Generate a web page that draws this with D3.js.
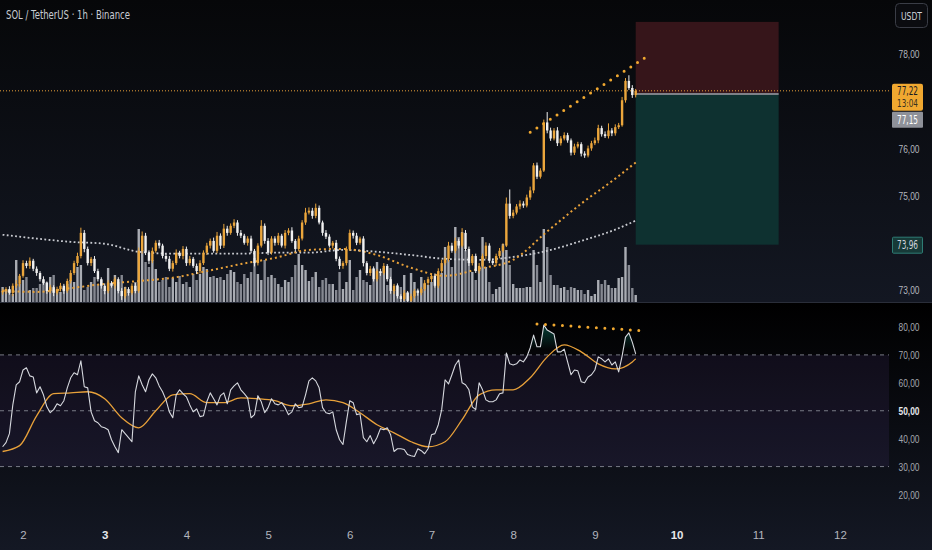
<!DOCTYPE html>
<html>
<head>
<meta charset="utf-8">
<script src="https://cdn.jsdelivr.net/npm/d3@7"></script>
<style>
  html, body { margin: 0; padding: 0; background: #000; }
  svg { display: block; font-family: "Liberation Sans Narrow", "DejaVu Sans Condensed", "Liberation Sans", sans-serif; }
</style>
</head>
<body>
<svg id="chart" width="932" height="550"></svg>
<script>
// hourly candles, first one is day 1 18:00
var startDay = 1, startHour = 18;

var closes = [
  72.98,73.02,72.94,73.09,73.13,73.30,73.57,73.51,73.62,73.45,
  73.36,73.23,73.15,72.98,73.06,72.94,73.02,73.09,72.98,73.19,
  73.36,73.57,73.72,74.21,73.87,73.57,73.66,73.40,73.23,73.09,
  72.98,73.15,73.09,73.23,72.98,72.87,73.02,72.94,73.09,72.98,
  73.83,74.15,73.79,73.62,73.83,74.00,73.94,73.72,73.66,73.45,
  73.57,73.79,73.72,73.87,73.57,73.66,73.51,73.40,73.57,73.79,
  73.94,74.04,73.83,74.15,73.94,74.30,74.21,74.36,74.43,74.21,
  74.15,74.00,74.09,73.83,73.57,73.94,74.36,74.04,73.79,74.09,
  74.00,74.15,73.94,74.21,74.26,74.04,73.87,74.09,74.43,74.64,
  74.68,74.57,74.74,74.43,74.21,74.13,73.94,74.00,73.66,73.51,
  73.57,73.87,74.21,74.15,74.00,74.09,73.57,73.36,73.45,73.23,
  73.40,73.36,73.51,73.23,72.98,73.09,72.87,72.81,72.94,72.77,
  72.87,72.98,72.94,73.02,73.15,73.23,73.30,73.09,73.40,73.57,
  73.66,73.94,73.83,74.04,73.94,74.21,73.87,73.57,73.72,73.40,
  73.51,73.72,73.94,73.62,73.57,73.72,73.83,73.94,74.83,74.57,
  74.64,74.77,74.83,74.79,74.96,75.11,75.64,75.40,75.53,76.55,
  76.38,76.21,76.38,76.11,76.21,76.28,76.17,75.91,76.04,76.09,
  75.89,75.85,76.00,76.11,76.17,76.43,76.30,76.26,76.38,76.32,
  76.45,76.49,77.02,77.43,77.28,77.13,77.22
];
var firstOpen = 72.95;

var wickUp = [
  .05,.04,.06,.05,.08,.04,.06,.05,.07,.04, .05,.04,.06,.03,.05,.04,.05,.06,.04,.05,
  .06,.05,.07,.11,.06,.05,.04,.06,.05,.04, .05,.06,.04,.05,.04,.06,.05,.04,.05,.06,
  .07,.09,.06,.05,.07,.05,.06,.04,.05,.06, .05,.07,.04,.06,.05,.06,.04,.05,.06,.05,
  .06,.05,.07,.08,.05,.10,.06,.05,.07,.05, .06,.04,.05,.06,.04,.05,.12,.05,.06,.05,
  .05,.06,.04,.06,.05,.07,.04,.06,.05,.10, .07,.06,.09,.05,.04,.06,.05,.04,.06,.05,
  .04,.05,.07,.05,.06,.04,.05,.04,.06,.05, .04,.05,.06,.04,.05,.04,.05,.04,.06,.04,
  .05,.04,.05,.04,.06,.05,.04,.05,.06,.07, .05,.08,.06,.07,.05,.10,.06,.05,.04,.05,
  .06,.05,.07,.05,.04,.05,.06,.05,.13,.30, .06,.05,.07,.05,.06,.08,.05,.06,.05,.06,
  .22,.06,.05,.07,.05,.06,.05,.04,.06,.05, .04,.05,.06,.05,.06,.07,.05,.06,.15,.05,
  .06,.05,.07,.06,.12,.06,.04
];
var wickDn = [
  .05,.06,.04,.07,.05,.06,.04,.05,.06,.05, .06,.05,.04,.06,.05,.07,.04,.05,.06,.04,
  .05,.04,.06,.05,.07,.05,.06,.04,.05,.06, .07,.05,.04,.06,.05,.08,.05,.06,.04,.05,
  .04,.06,.05,.07,.05,.04,.06,.05,.06,.05, .06,.04,.05,.07,.06,.05,.04,.06,.05,.04,
  .05,.06,.04,.05,.07,.05,.06,.04,.05,.06, .05,.04,.06,.05,.07,.05,.04,.06,.05,.04,
  .06,.05,.04,.06,.05,.04,.06,.05,.04,.05, .04,.06,.05,.04,.06,.05,.04,.06,.05,.07,
  .06,.05,.04,.06,.05,.04,.07,.05,.06,.05, .05,.06,.04,.05,.06,.07,.05,.06,.04,.06,
  .05,.04,.06,.05,.04,.05,.06,.04,.05,.04, .05,.06,.04,.05,.06,.04,.05,.06,.05,.04,
  .05,.04,.06,.05,.04,.06,.05,.04,.03,.06, .05,.04,.06,.05,.04,.05,.06,.05,.04,.03,
  .06,.05,.04,.06,.05,.04,.05,.06,.05,.04, .06,.05,.04,.05,.04,.06,.05,.04,.05,.06,
  .05,.04,.03,.05,.04,.06,.05
];

// volume, thousands SOL
var volumes = [
  15,13,12,8,42,18,22,25,12,14, 14,18,22,20,25,27,12,10,15,18,
  22,20,35,37,12,15,20,25,18,22, 12,34,18,27,20,27,15,10,12,20,
  73,52,40,35,42,33,20,22,25,15, 24,20,26,18,20,15,28,22,28,35,
  33,25,26,24,25,22,28,32,30,20, 18,28,24,30,44,28,22,42,25,27,
  24,18,15,22,20,25,37,48,37,32, 21,25,30,15,22,24,18,18,12,30,
  13,20,42,12,25,32,22,20,17,34, 40,30,34,17,34,12,17,15,27,10,
  29,20,12,25,18,17,20,22,27,29, 55,42,35,75,65,70,52,45,30,22,
  32,65,35,20,8,13,15,58,52,37, 18,14,14,14,15,15,52,37,20,73,
  55,27,17,17,14,15,12,15,14,12, 12,8,12,6,8,22,18,22,17,14,
  14,24,25,55,37,14,7
];

// moving averages read every 10 candles
var maIdx = [0,10,20,30,40,50,60,70,80,90,100,110,120,130,140,150,160,170,180,186];
var maSlow = [74.17,74.09,74.02,73.98,73.81,73.77,73.77,73.77,73.79,73.79,73.85,73.81,73.74,73.66,73.64,73.70,73.83,74.04,74.28,74.47];
var maFast = [72.98,72.96,73.04,73.13,73.19,73.26,73.40,73.55,73.68,73.85,73.87,73.74,73.47,73.30,73.45,73.64,74.24,74.83,75.36,75.70];

var rsi = [
  37.1,38.6,41.8,52.1,59.3,60.4,64.6,65.4,62.5,62.1, 56.4,58.6,55.7,51.4,49.3,50.4,52.5,51.8,53.6,58.2,
  61.8,63.6,62.9,67.9,58.6,58.2,49.6,46.4,45.7,44.3, 43.9,43.2,39.6,37.1,35.0,43.2,41.8,40.4,38.9,56.8,
  62.5,59.3,56.8,61.1,63.2,61.8,58.9,56.8,53.9,49.6, 47.5,55.7,57.5,56.1,55.0,52.1,49.6,50.7,47.9,48.2,
  53.2,56.4,54.3,52.1,55.4,56.4,52.5,57.5,58.9,60.0, 57.5,56.1,54.6,47.5,48.6,55.4,53.2,49.3,51.1,54.3,
  52.5,52.1,52.9,51.1,48.6,49.6,52.5,51.1,51.4,55.7, 60.7,61.8,60.7,58.2,51.1,49.3,48.9,49.6,43.2,39.6,
  37.9,46.1,53.6,52.9,48.6,48.9,40.4,38.9,41.1,38.2, 40.4,43.6,43.2,43.9,41.4,35.4,36.4,36.4,36.1,34.3,
  33.9,33.6,36.4,35.7,34.6,36.4,41.4,41.8,45.0,50.4, 61.1,59.6,62.9,66.4,68.2,60.0,59.3,57.5,51.4,50.4,
  60.0,57.5,53.9,53.2,53.2,53.9,56.1,56.4,70.7,66.8, 66.4,66.8,68.2,67.5,69.3,72.5,77.1,72.9,72.9,80.7,
  78.9,78.2,77.5,71.1,71.1,72.1,67.5,62.9,64.6,64.3, 60.4,60.0,62.1,62.9,64.6,69.3,68.6,67.5,68.6,66.4,
  67.5,63.9,69.6,76.4,77.9,74.6,70.4
];
var rsiMaIdx = [0,5,10,15,20,25,30,35,40,45,50,55,60,65,70,75,80,85,90,95,100,105,110,115,120,125,130,135,140,145,150,155,160,165,170,175,180,185,186];
var rsiMa = [35.4,37.5,48.2,56.1,56.4,56.8,54.3,47.5,43.9,50.0,55.7,56.1,52.9,52.9,54.6,54.3,53.6,51.8,52.5,53.9,52.9,49.3,45.0,42.1,38.9,37.1,38.9,46.8,55.7,57.5,57.5,61.8,69.3,73.6,71.1,66.8,65.0,67.5,68.6];

var priceTicks = [73, 75, 76, 78];
var rsiTicks = [20, 30, 40, 50, 60, 70, 80];
var rsiLevels = [70, 50, 30];
var days = [2, 3, 4, 5, 6, 7, 8, 9, 10, 11, 12];
var boldDays = [3, 10];

// short position drawing
var posStart = 186, posEnd = 228;
var posStop = 78.68, posEntry = 77.15, posTarget = 73.96;
var lastPrice = 77.22, countdown = "13:04";
var priceTrend = [[155, 76.34], [190, 77.98]];
var rsiTrend = [[157, 81.1], [189, 78.6]];

var W = 932, H = 550, plotW = 889;
var mainBot = 302, rsiTop = 303;

var x = d3.scaleLinear().domain([0, 186]).range([2.6, 635.7]);
var y = d3.scaleLinear().domain([73, 78]).range([290, 54]);
var yVol = d3.scaleLinear().domain([0, 80]).range([mainBot, 222]);
var yRsi = d3.scaleLinear().domain([20, 80]).range([494.5, 327]);

var fmt = function(d){ return d3.format(".2f")(d).replace(".", ","); };
var UP = "#eba63c", DOWN = "#f0f0f0", ORANGE = "#e8a13a";

// the chart font is narrower than anything installed, squeeze to width
function squeeze(sel, w) {
  sel.attr("textLength", w).attr("lengthAdjust", "spacingAndGlyphs");
}

var svg = d3.select("#chart");
var defs = svg.append("defs");

function vgrad(id, y1, y2, c1, c2) {
  var g = defs.append("linearGradient").attr("id", id)
    .attr("gradientUnits", "userSpaceOnUse")
    .attr("x1", 0).attr("x2", 0).attr("y1", y1).attr("y2", y2);
  g.append("stop").attr("offset", 0).attr("stop-color", c1);
  g.append("stop").attr("offset", 1).attr("stop-color", c2);
}
vgrad("bgMain", 0, mainBot, "#060709", "#131722");
vgrad("bgRsi", rsiTop, H, "#000000", "#141824");

var ob = defs.append("linearGradient").attr("id", "obFill")
  .attr("gradientUnits", "userSpaceOnUse")
  .attr("x1", 0).attr("x2", 0).attr("y1", yRsi(72)).attr("y2", yRsi(84));
ob.append("stop").attr("offset", 0).attr("stop-color", "#089981").attr("stop-opacity", 0);
ob.append("stop").attr("offset", 1).attr("stop-color", "#089981").attr("stop-opacity", 0.55);

defs.append("clipPath").attr("id", "clipMain")
  .append("rect").attr("x", 0).attr("y", 0).attr("width", plotW).attr("height", mainBot);
defs.append("clipPath").attr("id", "clipRsi")
  .append("rect").attr("x", 0).attr("y", rsiTop).attr("width", plotW).attr("height", 512 - rsiTop);
defs.append("clipPath").attr("id", "clipOb")
  .append("rect").attr("x", 0).attr("y", rsiTop).attr("width", plotW).attr("height", yRsi(70) - rsiTop);

svg.append("rect").attr("width", W).attr("height", mainBot).attr("fill", "url(#bgMain)");
svg.append("rect").attr("y", rsiTop).attr("width", W).attr("height", H - rsiTop).attr("fill", "url(#bgRsi)");
svg.append("line").attr("x1", 0).attr("x2", W).attr("y1", mainBot + 0.5).attr("y2", mainBot + 0.5)
  .attr("stroke", "#2a2e39");

// candle records
var candles = closes.map(function(c, i){
  var o = i === 0 ? firstOpen : closes[i - 1];
  return { i: i, o: o, c: c,
           h: Math.max(o, c) + wickUp[i], l: Math.min(o, c) - wickDn[i],
           v: volumes[i], up: c >= o };
});

var main = svg.append("g").attr("clip-path", "url(#clipMain)");

// position box
main.append("rect")
  .attr("x", x(posStart)).attr("width", x(posEnd) - x(posStart))
  .attr("y", y(posStop)).attr("height", y(posEntry) - y(posStop))
  .attr("fill", "#36151a");
main.append("rect")
  .attr("x", x(posStart)).attr("width", x(posEnd) - x(posStart))
  .attr("y", y(posEntry)).attr("height", y(posTarget) - y(posEntry))
  .attr("fill", "#0e3130");
main.append("line")
  .attr("x1", x(posStart)).attr("x2", x(posEnd))
  .attr("y1", y(posEntry)).attr("y2", y(posEntry))
  .attr("stroke", "#7d8088").attr("stroke-width", 2);

// volume
main.selectAll("rect.vol").data(candles).enter().append("rect")
  .attr("class", "vol")
  .attr("x", function(d){ return x(d.i) - 1.2; })
  .attr("width", 2.4)
  .attr("y", function(d){ return yVol(d.v); })
  .attr("height", function(d){ return yVol(0) - yVol(d.v); })
  .attr("fill", function(d){ return d.up ? "#a9acb3" : "#858891"; });

// last price line
main.append("line")
  .attr("x1", 0).attr("x2", plotW)
  .attr("y1", y(lastPrice)).attr("y2", y(lastPrice))
  .attr("stroke", ORANGE).attr("stroke-width", 1).attr("stroke-dasharray", "1 2");

// moving averages
var maLine = d3.line()
  .x(function(d){ return x(d[0]); })
  .y(function(d){ return y(d[1]); })
  .curve(d3.curveMonotoneX);

main.append("path")
  .datum(maIdx.map(function(k, j){ return [k, maSlow[j]]; }))
  .attr("d", maLine)
  .attr("fill", "none").attr("stroke", "#c9cbd1").attr("stroke-width", 1.8)
  .attr("stroke-dasharray", "1.8 2.4");
main.append("path")
  .datum(maIdx.map(function(k, j){ return [k, maFast[j]]; }))
  .attr("d", maLine)
  .attr("fill", "none").attr("stroke", ORANGE).attr("stroke-width", 2)
  .attr("stroke-dasharray", "2 3");

// candles
var cg = main.selectAll("g.candle").data(candles).enter().append("g").attr("class", "candle");
cg.append("line")
  .attr("x1", function(d){ return x(d.i); }).attr("x2", function(d){ return x(d.i); })
  .attr("y1", function(d){ return y(d.h); }).attr("y2", function(d){ return y(d.l); })
  .attr("stroke", function(d){ return d.up ? UP : DOWN; }).attr("stroke-width", 1);
cg.append("rect")
  .attr("x", function(d){ return x(d.i) - 1.2; })
  .attr("width", 2.4)
  .attr("y", function(d){ return y(Math.max(d.o, d.c)); })
  .attr("height", function(d){ return Math.max(1, Math.abs(y(d.o) - y(d.c))); })
  .attr("fill", function(d){ return d.up ? UP : DOWN; });

// trend line drawing
main.append("line")
  .attr("x1", x(priceTrend[0][0])).attr("y1", y(priceTrend[0][1]))
  .attr("x2", x(priceTrend[1][0])).attr("y2", y(priceTrend[1][1]))
  .attr("stroke", "#f0a830").attr("stroke-width", 3)
  .attr("stroke-linecap", "round").attr("stroke-dasharray", "0 8");

// RSI pane
var rsiG = svg.append("g").attr("clip-path", "url(#clipRsi)");
rsiG.append("rect")
  .attr("x", 0).attr("width", plotW)
  .attr("y", yRsi(70)).attr("height", yRsi(30) - yRsi(70))
  .attr("fill", "#7e57c2").attr("fill-opacity", 0.1);
rsiG.selectAll("line.lvl").data(rsiLevels).enter().append("line")
  .attr("class", "lvl")
  .attr("x1", 0).attr("x2", plotW)
  .attr("y1", function(d){ return yRsi(d); }).attr("y2", function(d){ return yRsi(d); })
  .attr("stroke", "#787b86").attr("stroke-dasharray", "4 4");

var rsiPts = rsi.map(function(v, i){ return [i, v]; });
rsiG.append("path")
  .datum(rsiPts)
  .attr("clip-path", "url(#clipOb)")
  .attr("d", d3.area()
    .x(function(d){ return x(d[0]); })
    .y0(yRsi(70))
    .y1(function(d){ return yRsi(d[1]); }))
  .attr("fill", "url(#obFill)");

rsiG.append("path")
  .datum(rsiMaIdx.map(function(k, j){ return [k, rsiMa[j]]; }))
  .attr("d", d3.line().x(function(d){ return x(d[0]); }).y(function(d){ return yRsi(d[1]); }).curve(d3.curveMonotoneX))
  .attr("fill", "none").attr("stroke", ORANGE).attr("stroke-width", 1.3);
rsiG.append("path")
  .datum(rsiPts)
  .attr("d", d3.line().x(function(d){ return x(d[0]); }).y(function(d){ return yRsi(d[1]); }))
  .attr("fill", "none").attr("stroke", "#d6d8de").attr("stroke-width", 1.1)
  .attr("stroke-linejoin", "round");

svg.append("line")
  .attr("x1", x(rsiTrend[0][0])).attr("y1", yRsi(rsiTrend[0][1]))
  .attr("x2", x(rsiTrend[1][0])).attr("y2", yRsi(rsiTrend[1][1]))
  .attr("stroke", "#f0a830").attr("stroke-width", 3)
  .attr("stroke-linecap", "round").attr("stroke-dasharray", "0 8.5");

// price axis
var pAxis = svg.append("g").attr("transform", "translate(909,0)")
  .call(d3.axisRight(y).tickValues(priceTicks).tickFormat(fmt).tickSize(0).tickPadding(0));
pAxis.select(".domain").remove();
pAxis.selectAll("text")
  .attr("x", 0).attr("text-anchor", "middle")
  .attr("fill", "#b2b5be").style("font-size", "11.5px")
  .call(squeeze, 21);

// rsi axis
var rAxis = svg.append("g").attr("transform", "translate(909,0)")
  .call(d3.axisRight(yRsi).tickValues(rsiTicks).tickFormat(fmt).tickSize(0).tickPadding(0));
rAxis.select(".domain").remove();
rAxis.selectAll("text")
  .attr("x", 0).attr("text-anchor", "middle")
  .attr("fill", function(d){ return d === 50 ? "#e6e8ec" : "#a3a6ae"; })
  .style("font-weight", function(d){ return d === 50 ? "bold" : "normal"; })
  .style("font-size", "11.5px")
  .call(squeeze, 21);

// time axis
var dayIdx = days.map(function(d){ return (d - startDay) * 24 - startHour; });
var tAxis = svg.append("g").attr("transform", "translate(0,531)")
  .call(d3.axisBottom(x).tickValues(dayIdx)
    .tickFormat(function(d, i){ return days[i]; }).tickSize(0).tickPadding(0));
tAxis.select(".domain").remove();
tAxis.selectAll("text")
  .attr("dy", "0.71em")
  .attr("fill", function(d, i){ return boldDays.indexOf(days[i]) >= 0 ? "#e6e8ec" : "#b2b5be"; })
  .style("font-weight", function(d, i){ return boldDays.indexOf(days[i]) >= 0 ? "bold" : "normal"; })
  .style("font-size", "11.5px");

// price labels on the axis
var lbl = svg.append("g");
lbl.append("rect").attr("x", 892).attr("y", y(lastPrice) - 7).attr("width", 31).attr("height", 27)
  .attr("rx", 2).attr("fill", "#f0a830");
lbl.append("text").attr("x", 907.5).attr("y", y(lastPrice) + 4).attr("text-anchor", "middle")
  .attr("fill", "#1a1c22").style("font-size", "11.5px").text(fmt(lastPrice)).call(squeeze, 21);
lbl.append("text").attr("x", 907.5).attr("y", y(lastPrice) + 16).attr("text-anchor", "middle")
  .attr("fill", "#3a3320").style("font-size", "11px").text(countdown).call(squeeze, 21);
lbl.append("rect").attr("x", 892).attr("y", y(lastPrice) + 21).attr("width", 31).attr("height", 16)
  .attr("rx", 1).attr("fill", "#8e9199");
lbl.append("text").attr("x", 907.5).attr("y", y(lastPrice) + 33).attr("text-anchor", "middle")
  .attr("fill", "#ffffff").style("font-size", "11.5px").text(fmt(posEntry)).call(squeeze, 21);
lbl.append("rect").attr("x", 892.5).attr("y", y(posTarget) - 7.5).attr("width", 30).attr("height", 16)
  .attr("rx", 1).attr("fill", "#173a38").attr("stroke", "#2e7c74");
lbl.append("text").attr("x", 907.5).attr("y", y(posTarget) + 4.5).attr("text-anchor", "middle")
  .attr("fill", "#d1d4dc").style("font-size", "11.5px").text(fmt(posTarget)).call(squeeze, 21);

// currency button
svg.append("rect").attr("x", 895.5).attr("y", 3.5).attr("width", 32).attr("height", 24)
  .attr("rx", 4).attr("fill", "#0b0c10").attr("stroke", "#3a3d46");
svg.append("text").attr("x", 911.5).attr("y", 19.5).attr("text-anchor", "middle")
  .attr("fill", "#d1d4dc").style("font-size", "11px").text("USDT").call(squeeze, 21);

// title
svg.append("text").attr("x", 6).attr("y", 19)
  .attr("fill", "#c9ccd3").style("font-size", "12.5px")
  .text("SOL / TetherUS · 1h · Binance")
  .call(squeeze, 124);
</script>
</body>
</html>
